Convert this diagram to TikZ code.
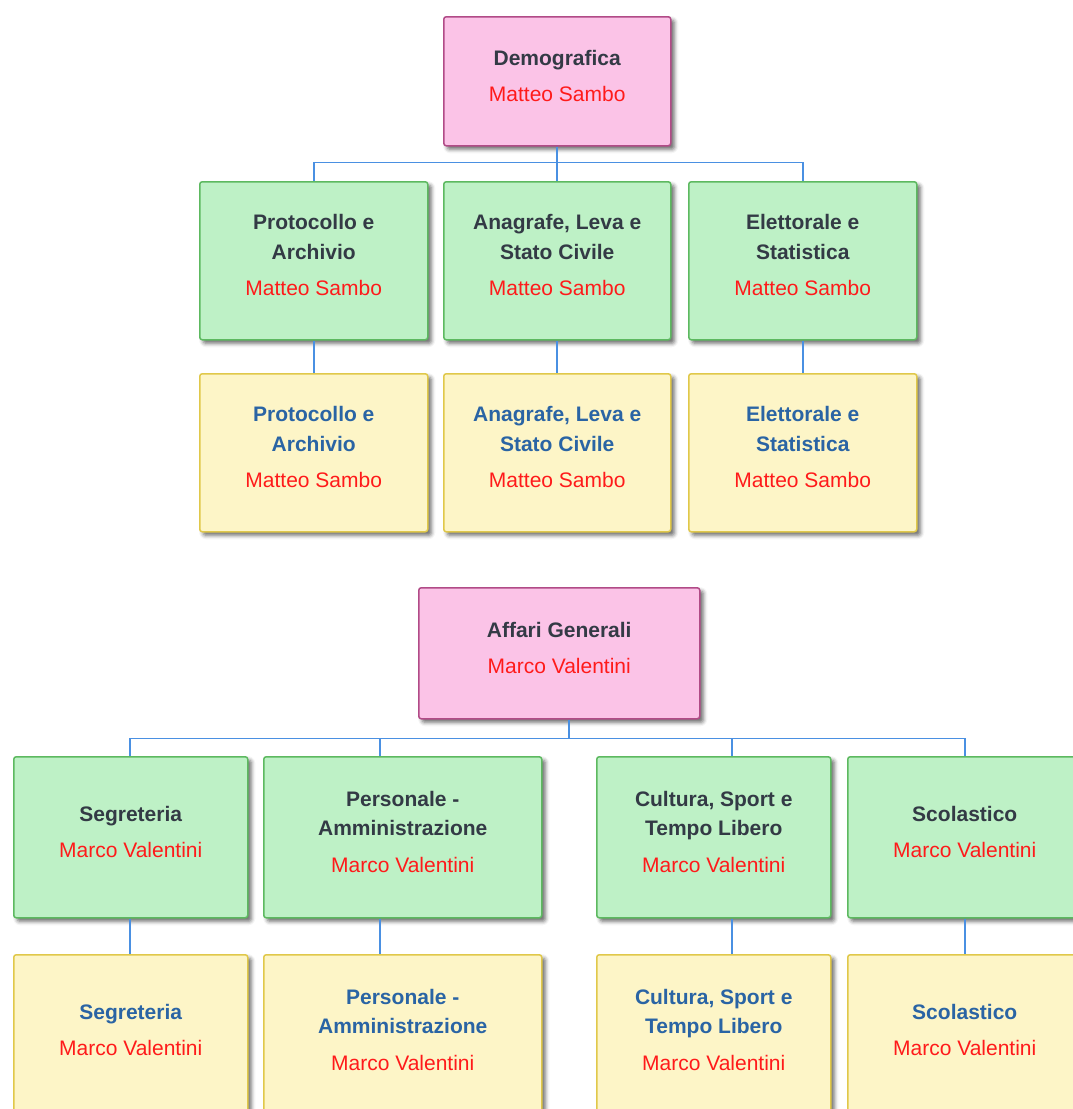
\documentclass[tikz,border=0pt]{standalone}
\usepackage{fontspec}
\setmainfont{Liberation Sans}
\usetikzlibrary{shadows.blur}
\definecolor{pinkfill}{HTML}{FBC3E7}
\definecolor{pinkline}{HTML}{B14B87}
\definecolor{greenfill}{HTML}{BEF1C6}
\definecolor{greenline}{HTML}{5DB960}
\definecolor{yellowfill}{HTML}{FDF5C7}
\definecolor{yellowline}{HTML}{E0C84A}
\definecolor{linkblue}{HTML}{4A90E2}
\definecolor{titledark}{HTML}{333A45}
\definecolor{titleblue}{HTML}{2A64A4}
\definecolor{namered}{HTML}{FF1A1A}
\newcommand{\who}[1]{{\mdseries\color{namered}#1}}
\begin{document}
\begin{tikzpicture}[x=1pt,y=-1pt,
  box/.style={draw, line width=1.5pt, rounded corners=2.5pt, anchor=north west, inner sep=0pt,
    blur shadow={shadow xshift=3.5pt, shadow yshift=-3.5pt, shadow blur radius=4pt, shadow opacity=60}},
  pinkbox/.style={box, fill=pinkfill, draw=pinkline},
  greenbox/.style={box, fill=greenfill, draw=greenline},
  yellowbox/.style={box, fill=yellowfill, draw=yellowline},
  txt/.style={inner sep=0pt, align=center, font=\fontsize{21}{29.3}\selectfont\bfseries},
  txtd/.style={txt, text=titledark},
  txtb/.style={txt, text=titleblue},
  link/.style={draw=linkblue, line width=1.9pt}]
\useasboundingbox (0,0) rectangle (1073,1109);
\clip (0,0) rectangle (1073,1109);

% ---------- top chart ----------
\node[pinkbox, minimum width=227pt, minimum height=129pt] (dem) at (443,16) {};
\node[greenbox, minimum width=228pt, minimum height=158pt] (g1) at (199,181) {};
\node[greenbox, minimum width=227pt, minimum height=158pt] (g2) at (443,181) {};
\node[greenbox, minimum width=228pt, minimum height=158pt] (g3) at (688,181) {};
\node[yellowbox, minimum width=228pt, minimum height=158pt] (y1) at (199,373) {};
\node[yellowbox, minimum width=227pt, minimum height=158pt] (y2) at (443,373) {};
\node[yellowbox, minimum width=228pt, minimum height=158pt] (y3) at (688,373) {};

\draw[link] (dem.south) -- ++(0,16) -| (g1.north);
\draw[link] (dem.south) ++(0,16) -- (g2.north);
\draw[link] (dem.south) -- ++(0,16) -| (g3.north);
\draw[link] (g1.south) -- (y1.north);
\draw[link] (g2.south) -- (y2.north);
\draw[link] (g3.south) -- (y3.north);

\node[txtd] (demt) at ([yshift=5.5pt]dem.center) {Demografica\\[7.2pt]\who{Matteo Sambo}};
\node[txtd] (g1t) at ([yshift=5.5pt]g1.center) {Protocollo e\\Archivio\\[7.2pt]\who{Matteo Sambo}};
\node[txtd] (g2t) at ([yshift=5.5pt]g2.center) {Anagrafe, Leva e\\Stato Civile\\[7.2pt]\who{Matteo Sambo}};
\node[txtd] (g3t) at ([yshift=5.5pt]g3.center) {Elettorale e\\Statistica\\[7.2pt]\who{Matteo Sambo}};
\node[txtb] (y1t) at ([yshift=5.5pt]y1.center) {Protocollo e\\Archivio\\[7.2pt]\who{Matteo Sambo}};
\node[txtb] (y2t) at ([yshift=5.5pt]y2.center) {Anagrafe, Leva e\\Stato Civile\\[7.2pt]\who{Matteo Sambo}};
\node[txtb] (y3t) at ([yshift=5.5pt]y3.center) {Elettorale e\\Statistica\\[7.2pt]\who{Matteo Sambo}};

% ---------- bottom chart ----------
\node[pinkbox, minimum width=281pt, minimum height=131pt] (ag) at (418,587) {};
\node[greenbox, minimum width=234pt, minimum height=161pt] (b1) at (13,756) {};
\node[greenbox, minimum width=278pt, minimum height=161pt] (b2) at (263,756) {};
\node[greenbox, minimum width=234pt, minimum height=161pt] (b3) at (596,756) {};
\node[greenbox, minimum width=234pt, minimum height=161pt] (b4) at (847,756) {};
\node[yellowbox, minimum width=234pt, minimum height=161pt] (c1) at (13,954) {};
\node[yellowbox, minimum width=278pt, minimum height=161pt] (c2) at (263,954) {};
\node[yellowbox, minimum width=234pt, minimum height=161pt] (c3) at (596,954) {};
\node[yellowbox, minimum width=234pt, minimum height=161pt] (c4) at (847,954) {};

\draw[link] ([xshift=9.5pt]ag.south) -- ++(0,19) -| ([xshift=-1pt]b1.north);
\draw[link] ([xshift=9.5pt]ag.south) ++(0,19) -| ([xshift=-23pt]b2.north);
\draw[link] ([xshift=9.5pt]ag.south) ++(0,19) -| ([xshift=18pt]b3.north);
\draw[link] ([xshift=9.5pt]ag.south) -- ++(0,19) -| (b4.north);
\draw[link] ([xshift=-1pt]b1.south) -- ([xshift=-1pt]c1.north);
\draw[link] ([xshift=-23pt]b2.south) -- ([xshift=-23pt]c2.north);
\draw[link] ([xshift=18pt]b3.south) -- ([xshift=18pt]c3.north);
\draw[link] (b4.south) -- (c4.north);

\node[txtd] (agt) at ([yshift=5.5pt]ag.center) {Affari Generali\\[7.2pt]\who{Marco Valentini}};
\node[txtd] (b1t) at ([yshift=5.5pt]b1.center) {Segreteria\\[7.2pt]\who{Marco Valentini}};
\node[txtd] (b2t) at ([yshift=5.5pt]b2.center) {Personale -\\Amministrazione\\[7.2pt]\who{Marco Valentini}};
\node[txtd] (b3t) at ([yshift=5.5pt]b3.center) {Cultura, Sport e\\Tempo Libero\\[7.2pt]\who{Marco Valentini}};
\node[txtd] (b4t) at ([yshift=5.5pt]b4.center) {Scolastico\\[7.2pt]\who{Marco Valentini}};
\node[txtb] (c1t) at ([yshift=5.5pt]c1.center) {Segreteria\\[7.2pt]\who{Marco Valentini}};
\node[txtb] (c2t) at ([yshift=5.5pt]c2.center) {Personale -\\Amministrazione\\[7.2pt]\who{Marco Valentini}};
\node[txtb] (c3t) at ([yshift=5.5pt]c3.center) {Cultura, Sport e\\Tempo Libero\\[7.2pt]\who{Marco Valentini}};
\node[txtb] (c4t) at ([yshift=5.5pt]c4.center) {Scolastico\\[7.2pt]\who{Marco Valentini}};
\end{tikzpicture}
\end{document}
